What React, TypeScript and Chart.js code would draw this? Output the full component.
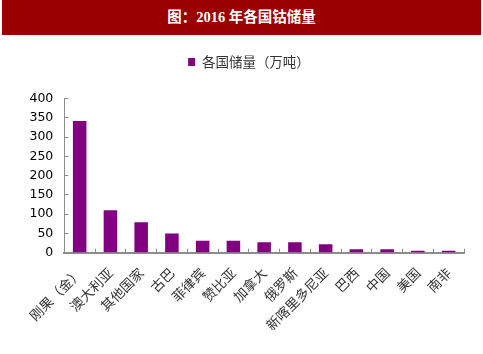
import React, { useEffect, useRef } from 'react';
import { Chart, registerables } from 'chart.js';

Chart.register(...registerables);

const titleText = '图：2016 年各国钴储量';
const seriesLabel = '各国储量（万吨）';
const categories = ['刚果（金）', '澳大利亚', '其他国家', '古巴', '菲律宾', '赞比亚', '加拿大', '俄罗斯', '新喀里多尼亚', '巴西', '中国', '美国', '南非'];
const reserves = [342, 110, 79, 50, 31, 31, 27, 27, 22, 9, 9, 5, 5];
const yMin = 0;
const yMax = 400;
const yStep = 50;

const cjk = '"Noto Sans CJK SC", "Noto Sans", sans-serif';

export default function App() {
  const ref = useRef<HTMLCanvasElement>(null);

  useEffect(() => {
    const legendGap = {
      id: 'legendGap',
      beforeInit(chart: any) {
        const lg = chart.legend;
        if (!lg) return;
        const origFit = lg.fit;
        lg.fit = function () {
          origFit.call(this);
          this.height += 20;
        };
      },
      afterLayout(chart: any) {
        const lg = chart.legend;
        if (lg) lg.left += 34;
      },
    };
    const chart = new Chart(ref.current!, {
      type: 'bar',
      data: {
        labels: categories,
        datasets: [
          {
            label: seriesLabel,
            data: reserves,
            backgroundColor: '#800080',
            borderWidth: 0,
            barPercentage: 0.44,
            categoryPercentage: 1,
          },
        ],
      },
      plugins: [legendGap],
      options: {
        animation: false,
        responsive: false,
        maintainAspectRatio: false,
        layout: { padding: { left: 0, right: 19, top: 45.25, bottom: 0 } },
        plugins: {
          legend: {
            display: true,
            position: 'top',
            labels: {
              boxWidth: 7,
              boxHeight: 8,
              padding: 10,
              color: '#333',
              font: { family: cjk, size: 13.5 },
            },
          },
          tooltip: { enabled: false },
        },
        scales: {
          x: {
            grid: {
              display: true,
              drawOnChartArea: false,
              drawTicks: true,
              tickLength: -4,
              color: '#8c8c8c',
              offset: true,
            },
            border: { color: '#8c8c8c', width: 2 },
            ticks: {
              minRotation: 45,
              maxRotation: 45,
              autoSkip: false,
              padding: 16,
              color: '#333',
              font: { family: cjk, size: 13.5 },
            },
            afterFit: (s: any) => {
              s.height = 101.3;
            },
          },
          y: {
            min: yMin,
            max: yMax,
            ticks: {
              stepSize: yStep,
              padding: 15,
              color: '#000',
              font: { family: '"DejaVu Sans", sans-serif', size: 12.5 },
            },
            grid: {
              drawOnChartArea: false,
              drawTicks: true,
              tickLength: -4,
              color: '#8c8c8c',
            },
            border: { color: '#8c8c8c', width: 1 },
            afterFit: (s: any) => {
              s.paddingLeft = 0;
              s.width = 64.3;
            },
          },
        },
      } as any,
    });
    return () => chart.destroy();
  }, []);

  return (
    <div style={{ position: 'absolute', left: 0, top: 0, width: 483, height: 354, background: '#fff' }}>
      <canvas ref={ref} width={483} height={354} style={{ position: 'absolute', left: 0, top: 0, width: 483, height: 354 }} />
      <div
        style={{
          position: 'absolute',
          left: 2,
          top: 0,
          width: 479,
          height: 35,
          background: '#9B0000',
          color: '#fff',
          fontFamily: '"Liberation Serif", "Noto Sans CJK SC", serif',
          fontWeight: 'bold',
          fontSize: 14.5,
          lineHeight: '35px',
          textAlign: 'center',
        }}
      >
        {titleText}
      </div>
    </div>
  );
}
